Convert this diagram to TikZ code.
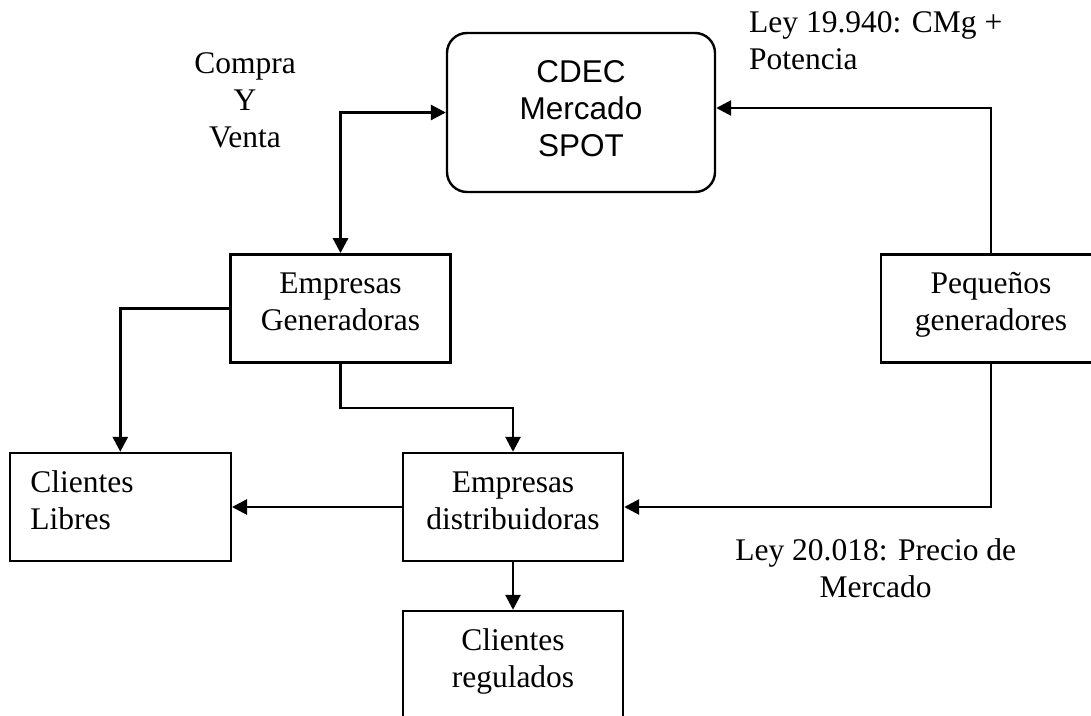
\documentclass[tikz,border=0pt]{standalone}
\usepackage{fontspec}
\setmainfont{Liberation Serif}
\newfontfamily\arialfont{Liberation Sans}
\usetikzlibrary{arrows.meta}
\newcommand\sst{\rule[-14.5pt]{0pt}{37pt}}
\tikzset{
  mytri/.tip={Triangle[length=15pt,width=15pt]},
  box/.style={draw, line width=2.4pt, inner sep=0pt, minimum width=220pt, minimum height=108pt, align=center, font=\fontsize{31.5}{37}\selectfont},
  lbl/.style={inner sep=0pt, font=\fontsize{31.5}{37}\selectfont},
  conn/.style={line width=2.8pt, -mytri},
}
\begin{document}
\begin{tikzpicture}[x=1pt, y=-1pt]
\useasboundingbox (0,0) rectangle (1091,715);
\clip (0,0) rectangle (1091,715);
\node[box, rounded corners=20pt, minimum width=268pt, minimum height=159pt, font=\arialfont\fontsize{31.5}{37}\selectfont] (cdec) at (581,112.5) {\strut CDEC\\\strut Mercado\\\strut SPOT};
\node[box] (gen) at (340.5,308.3) {\sst Empresas\\\sst Generadoras};
\node[box] (peq) at (991,308.3) {\sst Pequeños\\\sst generadores};
\node[box, align=left, text width=180pt, inner xsep=20.5pt] (libres) at (120.3,507) {\sst Clientes\\\sst Libres};
\node[box] (dist) at (513,507) {\sst Empresas\\\sst distribuidoras};
\node[box] (reg) at (513,665) {\sst Clientes\\\sst regulados};
\node[lbl, align=center] (cyv) at (245,102.6) {\strut Compra\\\strut Y\\\strut Venta};
\node[lbl, align=left, anchor=west] (ley1) at (749,43.25) {\strut Ley 19.940: CMg +\\\strut Potencia};
\node[lbl, align=center] (ley2) at (875.7,571.6) {\strut Ley 20.018: Precio de\\\strut Mercado};
\coordinate (gm) at (340.5,408);
\draw[line width=2.8pt, mytri-mytri] (cdec.west) -| (gen.north);
\draw[conn] (peq.north) |- ([yshift=4.5pt]cdec.east);
\draw[conn] (gen.west) -| (libres.north);
\draw[conn] (gen.south) -- (gm) -| (dist.north);
\draw[conn] (peq.south) |- (dist.east);
\draw[conn] (dist.west) -- (libres.east);
\draw[conn] (dist.south) -- (reg.north);
\end{tikzpicture}
\end{document}
